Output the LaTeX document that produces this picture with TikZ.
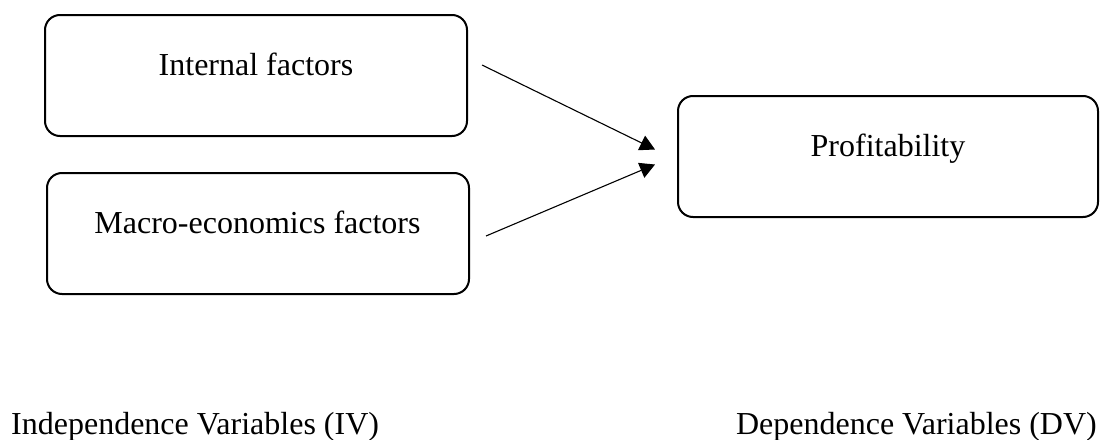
\documentclass[tikz,border=0pt]{standalone}
\usepackage{fontspec}
\setmainfont{Liberation Serif}
\usetikzlibrary{arrows.meta}
\begin{document}
\begin{tikzpicture}[x=1pt,y=-1pt,
  box/.style={draw=black,line width=2pt,rounded corners=15pt,minimum width=422pt,minimum height=121pt,inner sep=0pt},
  lbl/.style={inner sep=0pt,anchor=base,font=\fontsize{32}{38}\selectfont},
  conn/.style={line width=1.1pt,-{Triangle[length=15pt,width=16pt]}}]
\useasboundingbox (0,0) rectangle (1100,439);
\node[box] (int) at (256,75.5) {};
\node[box] (mac) at (258,233.5) {};
\node[box,minimum width=420pt] (prof) at (888,156.5) {};
\node[lbl] (intT) at (256,75) {Internal factors};
\node[lbl] (macT) at (257.5,233) {Macro-economics factors};
\node[lbl] (profT) at (888,156) {Profitability};
\coordinate (s1) at (482,65);
\coordinate (s2) at (486,236);
\coordinate (t1) at ([xshift=-22pt,yshift=7pt]prof.west);
\coordinate (t2) at ([xshift=-22pt,yshift=-8pt]prof.west);
\draw[conn] (s1) -- (t1);
\draw[conn] (s2) -- (t2);
\node[lbl,anchor=base west] (iv) at (11,434) {Independence Variables (IV)};
\node[lbl,anchor=base east] (dv) at (1097,434) {Dependence Variables (DV)};
\end{tikzpicture}
\end{document}
